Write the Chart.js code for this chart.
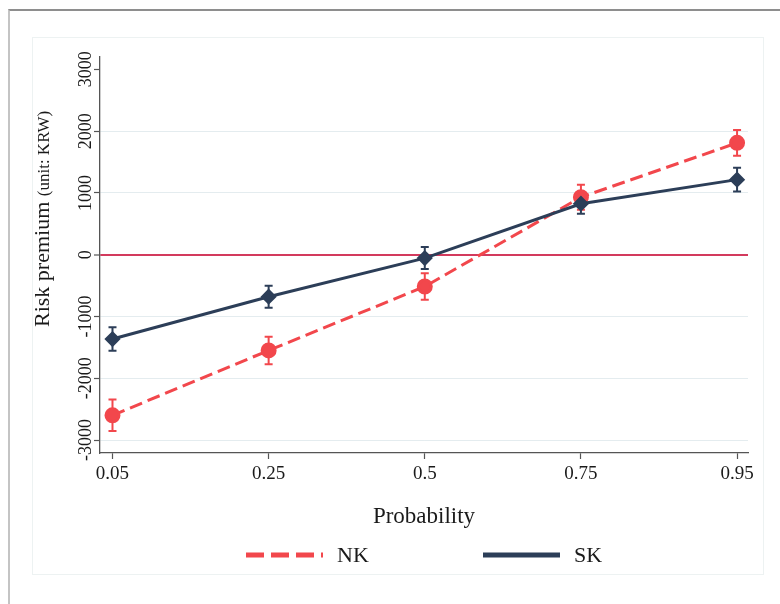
<!DOCTYPE html>
<html>
<head>
<meta charset="utf-8">
<script src="https://cdn.jsdelivr.net/npm/chart.js@4.4.1/dist/chart.umd.min.js"></script>
<style>
  body { margin: 0; background: #fff; }
  .wrap { position: relative; width: 780px; height: 604px; overflow: hidden; }
  .frame { position: absolute; left: 8px; top: 9px; right: -4px; bottom: -4px;
           border-top: 2px solid #8e8e8e; border-left: 2px solid #c4c4c4; }
  .panel { position: absolute; left: 32px; top: 37px; width: 730px; height: 536px;
           border: 1px solid #edf2f2; }
  canvas { position: absolute; left: 0; top: 0; }
</style>
</head>
<body>
<div class="wrap">
  <div class="frame"></div>
  <div class="panel"></div>
  <canvas id="riskChart" width="780" height="604"></canvas>
</div>
<script>
const probLabels = ['0.05', '0.25', '0.5', '0.75', '0.95'];
const yTickValues = [-3000, -2000, -1000, 0, 1000, 2000, 3000];
const nkValues = [-2600, -1550, -515, 930, 1810];
const nkErr = [255, 222, 216, 202, 210];
const skValues = [-1365, -680, -55, 825, 1215];
const skErr = [190, 178, 178, 162, 194];

const NK_COLOR = '#f2474c';
const SK_COLOR = '#2c3e58';
const SERIF = '"Liberation Serif", "DejaVu Serif", serif';

const toPoints = (vals) => vals.map((v, i) => ({ x: i, y: v }));

// error bars, drawn from the same scales as the points
const errorBars = {
    id: 'errorBars',
    beforeDatasetsDraw(chart) {
        const { ctx, scales: { x, y } } = chart;
        chart.data.datasets.forEach((ds) => {
            ctx.save();
            ctx.strokeStyle = ds.borderColor;
            ctx.lineWidth = 2;
            ds.data.forEach((p, i) => {
                const px = x.getPixelForValue(p.x);
                const top = y.getPixelForValue(p.y + ds.errors[i]);
                const bot = y.getPixelForValue(p.y - ds.errors[i]);
                ctx.beginPath();
                ctx.moveTo(px, top); ctx.lineTo(px, bot);
                ctx.moveTo(px - 4, top); ctx.lineTo(px + 4, top);
                ctx.moveTo(px - 4, bot); ctx.lineTo(px + 4, bot);
                ctx.stroke();
            });
            ctx.restore();
        });
    }
};

// y title with smaller unit part, and the legend row under the axis
const extras = {
    id: 'extras',
    afterDraw(chart) {
        const ctx = chart.ctx;
        ctx.save();
        ctx.translate(49, 327);
        ctx.rotate(-Math.PI / 2);
        ctx.fillStyle = '#1a1a1a';
        ctx.textBaseline = 'alphabetic';
        ctx.font = '22px ' + SERIF;
        const main = 'Risk premium ';
        ctx.fillText(main, 0, 0);
        const w = ctx.measureText(main).width;
        ctx.font = '17px ' + SERIF;
        ctx.fillText('(unit: KRW)', w, 0);
        ctx.restore();

        const starts = { NK: 246, SK: 483 };
        chart.data.datasets.forEach((ds) => {
            const x0 = starts[ds.label];
            ctx.save();
            ctx.strokeStyle = ds.borderColor;
            ctx.lineWidth = 5;
            ctx.setLineDash(ds.borderDash.length ? [18, 7] : []);
            ctx.beginPath();
            ctx.moveTo(x0, 555); ctx.lineTo(x0 + 77, 555);
            ctx.stroke();
            ctx.setLineDash([]);
            ctx.fillStyle = '#1a1a1a';
            ctx.font = '22px ' + SERIF;
            ctx.textBaseline = 'middle';
            ctx.fillText(ds.label, x0 + 91, 556);
            ctx.restore();
        });
    }
};

new Chart(document.getElementById('riskChart'), {
    type: 'line',
    data: {
        datasets: [
            {
                label: 'NK',
                data: toPoints(nkValues),
                errors: nkErr,
                borderColor: NK_COLOR,
                backgroundColor: NK_COLOR,
                borderWidth: 3,
                borderDash: [13, 6],
                pointStyle: 'circle',
                pointRadius: 6.5,
                order: 2
            },
            {
                label: 'SK',
                data: toPoints(skValues),
                errors: skErr,
                borderColor: SK_COLOR,
                backgroundColor: SK_COLOR,
                borderWidth: 3,
                borderDash: [],
                pointStyle: 'rectRot',
                pointRadius: 6,
                order: 1
            }
        ]
    },
    options: {
        responsive: false,
        animation: false,
        layout: { padding: { left: 20, top: 57, right: 32, bottom: 73 } },
        plugins: {
            legend: { display: false },
            tooltip: { enabled: false }
        },
        scales: {
            x: {
                type: 'linear',
                min: -0.08,
                max: 4.07,
                afterBuildTicks: (scale) => {
                    scale.ticks = probLabels.map((_, i) => ({ value: i }));
                },
                afterFit: (scale) => { scale.height = 78; },
                ticks: {
                    callback: (v) => probLabels[v],
                    font: { family: SERIF, size: 19 },
                    color: '#1a1a1a',
                    padding: 4,
                    maxRotation: 0,
                    autoSkip: false
                },
                grid: { drawOnChartArea: false, tickLength: 6, tickColor: '#555', tickWidth: 1.2 },
                border: { color: '#555', width: 1.3 },
                title: {
                    display: true,
                    text: 'Probability',
                    font: { family: SERIF, size: 23 },
                    color: '#1a1a1a',
                    padding: { top: 0, bottom: 0 }
                }
            },
            y: {
                min: -3210,
                max: 3200,
                afterBuildTicks: (scale) => {
                    scale.ticks = yTickValues.map((v) => ({ value: v }));
                },
                afterFit: (scale) => { scale.width = 80; },
                ticks: {
                    callback: (v) => String(v),
                    autoSkip: false,
                    minRotation: 90,
                    maxRotation: 90,
                    crossAlign: 'center',
                    padding: -13.5,
                    font: { family: SERIF, size: 18 },
                    color: '#1a1a1a'
                },
                grid: {
                    color: (c) => c.tick.value === 0 ? '#d33a5d' : (c.tick.value === 3000 ? 'rgba(0,0,0,0)' : '#e4ecef'),
                    lineWidth: (c) => c.tick.value === 0 ? 2 : 1,
                    tickLength: 6,
                    tickColor: '#555',
                    tickWidth: 1.2
                },
                border: { color: '#555', width: 1.3 }
            }
        }
    },
    plugins: [errorBars, extras]
});
</script>
</body>
</html>
